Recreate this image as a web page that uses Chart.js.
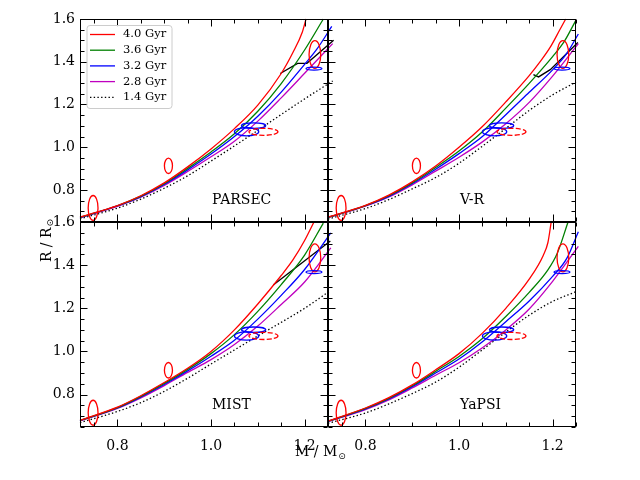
<!DOCTYPE html>
<html><head><meta charset="utf-8">
<script src="https://cdn.jsdelivr.net/npm/chart.js@4.4.0/dist/chart.umd.min.js"></script>
<style>
html,body{margin:0;padding:0;background:#fff;}
#wrap{position:relative;width:640px;height:480px;background:#fff;}
#wrap canvas{position:absolute;left:0;top:0;}
</style></head><body>
<div id="wrap">
<canvas id="c0" width="640" height="480"></canvas>
<canvas id="c1" width="640" height="480"></canvas>
<canvas id="c2" width="640" height="480"></canvas>
<canvas id="c3" width="640" height="480"></canvas>
</div>
<script>
// ---------------- data ----------------
const ageLabels = ['4.0 Gyr', '3.6 Gyr', '3.2 Gyr', '2.8 Gyr', '1.4 Gyr'];
const modelNames = ['PARSEC', 'V-R', 'MIST', 'YaPSI'];
const massTicks = [0.8, 1.0, 1.2];
const massMinorTicks = [0.75, 0.85, 0.9, 0.95, 1.05, 1.1, 1.15, 1.25];
const radiusTicks = [0.8, 1.0, 1.2, 1.4, 1.6];
const radiusMinorTicks = [0.65, 0.7, 0.75, 0.85, 0.9, 0.95, 1.05, 1.1, 1.15, 1.25, 1.3, 1.35, 1.45, 1.5, 1.55];

// PARSEC
const parsecM40 = [0.72, 0.80, 0.85, 0.90, 0.95, 1.00, 1.05, 1.10, 1.15, 1.175, 1.195, 1.203];
const parsecR40 = [0.673, 0.727, 0.773, 0.833, 0.908, 0.992, 1.087, 1.197, 1.345, 1.443, 1.538, 1.600];
const parsecM36 = [0.72, 0.80, 0.85, 0.90, 0.95, 1.00, 1.05, 1.10, 1.15, 1.20, 1.24];
const parsecR36 = [0.672, 0.726, 0.771, 0.829, 0.901, 0.978, 1.063, 1.168, 1.298, 1.455, 1.600];
const parsecM32 = [0.72, 0.80, 0.85, 0.90, 0.95, 1.00, 1.05, 1.10, 1.15, 1.20, 1.225, 1.258];
const parsecR32 = [0.671, 0.725, 0.769, 0.826, 0.894, 0.968, 1.050, 1.145, 1.258, 1.388, 1.455, 1.565];
const parsecM28 = [0.72, 0.80, 0.85, 0.90, 0.95, 1.00, 1.05, 1.10, 1.15, 1.20, 1.26];
const parsecR28 = [0.670, 0.723, 0.766, 0.821, 0.886, 0.955, 1.028, 1.122, 1.231, 1.346, 1.485];
const parsecM14 = [0.72, 0.80, 0.85, 0.90, 0.95, 1.00, 1.05, 1.10, 1.15, 1.20, 1.26];
const parsecR14 = [0.665, 0.715, 0.757, 0.808, 0.866, 0.935, 1.006, 1.079, 1.153, 1.226, 1.310];
const parsecTrackM = [1.148, 1.185, 1.205, 1.262];
const parsecTrackR = [1.345, 1.392, 1.393, 1.500];

// V-R
const vrM40 = [0.72, 0.80, 0.85, 0.90, 0.95, 1.00, 1.05, 1.10, 1.15, 1.175, 1.195, 1.216, 1.228];
const vrR40 = [0.673, 0.728, 0.776, 0.838, 0.912, 1.000, 1.097, 1.212, 1.335, 1.405, 1.468, 1.552, 1.600];
const vrM36 = [0.72, 0.80, 0.85, 0.90, 0.95, 1.00, 1.05, 1.10, 1.15, 1.20, 1.225, 1.25];
const vrR36 = [0.672, 0.727, 0.773, 0.833, 0.905, 0.982, 1.072, 1.183, 1.299, 1.424, 1.495, 1.595];
const vrM32 = [0.72, 0.80, 0.85, 0.90, 0.95, 1.00, 1.05, 1.10, 1.15, 1.20, 1.23, 1.255];
const vrR32 = [0.671, 0.726, 0.770, 0.829, 0.897, 0.970, 1.050, 1.152, 1.257, 1.362, 1.438, 1.530];
const vrM28 = [0.72, 0.80, 0.85, 0.90, 0.95, 1.00, 1.05, 1.10, 1.15, 1.20, 1.255];
const vrR28 = [0.670, 0.724, 0.767, 0.824, 0.888, 0.953, 1.025, 1.110, 1.210, 1.333, 1.485];
const vrM14 = [0.72, 0.80, 0.85, 0.90, 0.95, 1.00, 1.05, 1.10, 1.15, 1.20, 1.25];
const vrR14 = [0.664, 0.713, 0.755, 0.805, 0.858, 0.925, 1.005, 1.088, 1.172, 1.245, 1.305];
const vrTrackM = [1.159, 1.170, 1.195, 1.254];
const vrTrackR = [1.340, 1.329, 1.363, 1.490];

// MIST
const mistM40 = [0.72, 0.80, 0.85, 0.90, 0.95, 1.00, 1.05, 1.10, 1.15, 1.175, 1.20, 1.22];
const mistR40 = [0.681, 0.742, 0.795, 0.856, 0.922, 1.000, 1.100, 1.220, 1.352, 1.424, 1.514, 1.600];
const mistM36 = [0.72, 0.80, 0.85, 0.90, 0.95, 1.00, 1.05, 1.10, 1.15, 1.20, 1.24];
const mistR36 = [0.680, 0.740, 0.792, 0.852, 0.917, 0.990, 1.078, 1.186, 1.310, 1.447, 1.595];
const mistM32 = [0.72, 0.80, 0.85, 0.90, 0.95, 1.00, 1.05, 1.10, 1.15, 1.20, 1.256];
const mistR32 = [0.679, 0.738, 0.789, 0.847, 0.910, 0.978, 1.052, 1.150, 1.260, 1.380, 1.550];
const mistM28 = [0.72, 0.80, 0.85, 0.90, 0.95, 1.00, 1.05, 1.10, 1.15, 1.20, 1.256];
const mistR28 = [0.678, 0.736, 0.785, 0.842, 0.903, 0.962, 1.032, 1.118, 1.218, 1.322, 1.480];
const mistM14 = [0.72, 0.80, 0.85, 0.90, 0.95, 1.00, 1.05, 1.10, 1.15, 1.20, 1.255];
const mistR14 = [0.670, 0.722, 0.763, 0.815, 0.876, 0.942, 1.007, 1.072, 1.135, 1.200, 1.282];
const mistTrackM = [1.133, 1.255];
const mistTrackR = [1.308, 1.512];

// YaPSI
const yapsiM40 = [0.72, 0.80, 0.85, 0.90, 0.95, 1.00, 1.05, 1.10, 1.15, 1.18, 1.19, 1.197];
const yapsiR40 = [0.678, 0.738, 0.786, 0.845, 0.915, 0.990, 1.085, 1.200, 1.335, 1.445, 1.505, 1.600];
const yapsiM36 = [0.72, 0.80, 0.85, 0.90, 0.95, 1.00, 1.05, 1.10, 1.15, 1.19, 1.21, 1.233];
const yapsiR36 = [0.677, 0.736, 0.783, 0.841, 0.908, 0.977, 1.060, 1.162, 1.274, 1.378, 1.455, 1.600];
const yapsiM32 = [0.72, 0.80, 0.85, 0.90, 0.95, 1.00, 1.05, 1.10, 1.15, 1.20, 1.23, 1.255];
const yapsiR32 = [0.676, 0.734, 0.780, 0.837, 0.900, 0.965, 1.045, 1.138, 1.234, 1.348, 1.430, 1.555];
const yapsiM28 = [0.72, 0.80, 0.85, 0.90, 0.95, 1.00, 1.05, 1.10, 1.15, 1.20, 1.255];
const yapsiR28 = [0.675, 0.731, 0.776, 0.831, 0.890, 0.948, 1.017, 1.100, 1.197, 1.325, 1.487];
const yapsiM14 = [0.72, 0.80, 0.85, 0.90, 0.95, 1.00, 1.05, 1.10, 1.15, 1.20, 1.25];
const yapsiR14 = [0.667, 0.715, 0.757, 0.805, 0.858, 0.927, 1.008, 1.090, 1.168, 1.232, 1.277];

// observed stars (error ellipses)
const starMass = [0.748, 0.909, 1.076, 1.091, 1.112, 1.222, 1.220];
const starRadius = [0.716, 0.913, 1.072, 1.101, 1.072, 1.434, 1.368];
const starMassErr = [0.0105, 0.0086, 0.026, 0.026, 0.031, 0.0125, 0.017];
const starRadiusErr = [0.058, 0.036, 0.019, 0.0125, 0.0165, 0.065, 0.007];

// ---------------- styles / layout ----------------
const FONT = "'DejaVu Serif', 'Liberation Serif', serif";
const seriesStyles = [
  { color: '#ff0000', dash: [] },
  { color: '#008000', dash: [] },
  { color: '#0000ff', dash: [] },
  { color: '#bf00bf', dash: [] },
  { color: '#000000', dash: [1.4, 2.3] }
];
const starStyles = [
  { color: '#ff0000', dash: [] }, { color: '#ff0000', dash: [] },
  { color: '#0000ff', dash: [] }, { color: '#0000ff', dash: [] },
  { color: '#ff0000', dash: [5, 2.2] },
  { color: '#ff0000', dash: [] }, { color: '#0000ff', dash: [] }
];
const LW = 1.3;
const YW = 50, XH = 30;

const panels = [
  { name: modelNames[0], series: [[parsecM40, parsecR40], [parsecM36, parsecR36], [parsecM32, parsecR32], [parsecM28, parsecR28], [parsecM14, parsecR14]],
    track: [parsecTrackM, parsecTrackR], rect: { l: 80, r: 328, t: 19, b: 222 }, showY: true, showX: false, legend: true },
  { name: modelNames[1], series: [[vrM40, vrR40], [vrM36, vrR36], [vrM32, vrR32], [vrM28, vrR28], [vrM14, vrR14]],
    track: [vrTrackM, vrTrackR], rect: { l: 328, r: 576, t: 19, b: 222 }, showY: false, showX: false, legend: false },
  { name: modelNames[2], series: [[mistM40, mistR40], [mistM36, mistR36], [mistM32, mistR32], [mistM28, mistR28], [mistM14, mistR14]],
    track: [mistTrackM, mistTrackR], rect: { l: 80, r: 328, t: 222, b: 427 }, showY: true, showX: true, legend: false },
  { name: modelNames[3], series: [[yapsiM40, yapsiR40], [yapsiM36, yapsiR36], [yapsiM32, yapsiR32], [yapsiM28, yapsiR28], [yapsiM14, yapsiR14]],
    track: null, rect: { l: 328, r: 576, t: 222, b: 427 }, showY: false, showX: true, legend: false, axisTitles: true }
];

function pts(m, r) { return m.map((v, i) => ({ x: v, y: r[i] })); }

// ---------------- plugins ----------------
const ellipsePlugin = {
  id: 'ellipses',
  afterDatasetsDraw(chart) {
    const { ctx, scales: { x, y } } = chart;
    ctx.save();
    ctx.lineWidth = LW;
    starMass.forEach((m, i) => {
      const cx = x.getPixelForValue(m), cy = y.getPixelForValue(starRadius[i]);
      const rx = Math.abs(x.getPixelForValue(m + starMassErr[i]) - cx);
      const ry = Math.abs(y.getPixelForValue(starRadius[i] + starRadiusErr[i]) - cy);
      ctx.strokeStyle = starStyles[i].color;
      ctx.setLineDash(starStyles[i].dash);
      ctx.beginPath();
      ctx.ellipse(cx, cy, rx, ry, 0, 0, Math.PI * 2);
      ctx.stroke();
    });
    ctx.restore();
  }
};

const framePlugin = {
  id: 'frame',
  afterDraw(chart) {
    const { ctx, chartArea: a, scales: { x, y } } = chart;
    const opts = chart.options.plugins.frame;
    ctx.save();
    ctx.strokeStyle = '#000';
    ctx.lineWidth = 1;
    ctx.setLineDash([]);
    const L = Math.round(a.left) + 0.5, R = Math.round(a.right) - 0.5;
    const T = Math.round(a.top) + 0.5, B = Math.round(a.bottom) - 0.5;
    ctx.strokeRect(L, T, R - L, B - T);
    ctx.beginPath();
    const xt = (vals, len) => vals.forEach(v => {
      const px = Math.round(x.getPixelForValue(v)) + 0.5;
      ctx.moveTo(px, B); ctx.lineTo(px, B - len);
      ctx.moveTo(px, T); ctx.lineTo(px, T + len);
    });
    const yt = (vals, len) => vals.forEach(v => {
      const py = Math.round(y.getPixelForValue(v)) + 0.5;
      ctx.moveTo(L, py); ctx.lineTo(L + len, py);
      ctx.moveTo(R, py); ctx.lineTo(R - len, py);
    });
    xt(massTicks, 7); xt(massMinorTicks, 4);
    yt(radiusTicks, 7); yt(radiusMinorTicks, 4);
    ctx.stroke();

    // model name
    ctx.fillStyle = '#000';
    ctx.font = '14px ' + FONT;
    ctx.textAlign = 'left';
    ctx.textBaseline = 'middle';
    ctx.fillText(opts.name, x.getPixelForValue(1.0) + 1, y.getPixelForValue(0.752));

    // legend
    if (opts.legend) {
      const lx = a.left + 6.5, ly = a.top + 6, lw = 85, lh = 83;
      ctx.fillStyle = 'rgba(255,255,255,0.8)';
      ctx.strokeStyle = '#cccccc';
      ctx.lineWidth = 1;
      ctx.beginPath();
      ctx.roundRect(lx + 0.5, ly + 0.5, lw, lh, 3);
      ctx.fill(); ctx.stroke();
      ctx.font = '11.5px ' + FONT;
      ctx.textBaseline = 'middle';
      chart.data.datasets.forEach((ds, i) => {
        if (!ds.label) return;
        const ey = ly + 9.5 + i * 15.7;
        ctx.strokeStyle = ds.borderColor;
        ctx.lineWidth = LW;
        ctx.setLineDash(ds.borderDash || []);
        ctx.beginPath();
        ctx.moveTo(lx + 3.5, ey); ctx.lineTo(lx + 28.5, ey);
        ctx.stroke();
        ctx.setLineDash([]);
        ctx.fillStyle = '#000';
        ctx.fillText(ds.label, lx + 36.5, ey);
      });
    }

    // figure axis titles
    if (opts.axisTitles) {
      const main = '14px ' + FONT, sub = "9px 'DejaVu Sans', sans-serif";
      ctx.fillStyle = '#000';
      ctx.textBaseline = 'alphabetic';
      ctx.textAlign = 'left';
      // x title
      ctx.font = main; const xw1 = ctx.measureText('M / M').width;
      ctx.font = sub; const xw2 = ctx.measureText('\u2299').width;
      let sx = 320 - (xw1 + xw2) / 2;
      ctx.font = main; ctx.fillText('M / M', sx, 456);
      ctx.font = sub; ctx.fillText('\u2299', sx + xw1 + 1, 459);
      // y title
      ctx.save();
      ctx.translate(51, 241);
      ctx.rotate(-Math.PI / 2);
      ctx.font = main; const yw1 = ctx.measureText('R / R').width;
      ctx.font = sub; const yw2 = ctx.measureText('\u2299').width;
      sx = -(yw1 + yw2) / 2;
      ctx.font = main; ctx.fillText('R / R', sx, 0);
      ctx.font = sub; ctx.fillText('\u2299', sx + yw1 + 1, 2);
      ctx.restore();
    }
    ctx.restore();
  }
};

// ---------------- charts ----------------
panels.forEach((p, k) => {
  const datasets = p.series.map((s, i) => ({
    label: ageLabels[i],
    data: pts(s[0], s[1]),
    showLine: true,
    borderColor: seriesStyles[i].color,
    borderDash: seriesStyles[i].dash,
    borderWidth: LW,
    pointRadius: 0,
    cubicInterpolationMode: 'monotone',
    clip: false,
    fill: false
  }));
  if (p.track) {
    datasets.push({
      label: '',
      data: pts(p.track[0], p.track[1]),
      showLine: true, borderColor: '#000000', borderWidth: LW, pointRadius: 0,
      tension: 0, clip: false, fill: false
    });
  }
  const tickFont = { family: FONT, size: 14 };
  new Chart(document.getElementById('c' + k), {
    type: 'scatter',
    data: { datasets },
    plugins: [ellipsePlugin, framePlugin],
    options: {
      responsive: false, animation: false, devicePixelRatio: 1, events: [],
      layout: { padding: {
        left: p.showY ? p.rect.l - YW : p.rect.l,
        right: 640 - p.rect.r,
        top: p.rect.t,
        bottom: p.showX ? 480 - p.rect.b - XH : 480 - p.rect.b
      } },
      plugins: {
        legend: { display: false }, tooltip: { enabled: false },
        frame: { name: p.name, legend: p.legend, axisTitles: !!p.axisTitles }
      },
      scales: {
        x: {
          type: 'linear', min: 0.72, max: 1.25, display: p.showX,
          grid: { display: false }, border: { display: false },
          afterBuildTicks: s => { s.ticks = massTicks.map(v => ({ value: v })); },
          afterFit: s => { s.height = p.showX ? XH : 0; },
          ticks: { font: tickFont, color: '#000', padding: 3, maxRotation: 0, callback: v => v.toFixed(1) }
        },
        y: {
          type: 'linear', min: 0.65, max: 1.6, display: p.showY,
          grid: { display: false, drawTicks: false }, border: { display: false },
          afterBuildTicks: s => { s.ticks = radiusTicks.map(v => ({ value: v })); },
          afterFit: s => { s.width = p.showY ? YW : 0; },
          ticks: { font: tickFont, color: '#000', padding: 5, callback: v => v.toFixed(1) }
        }
      }
    }
  });
});
</script>
</body></html>
